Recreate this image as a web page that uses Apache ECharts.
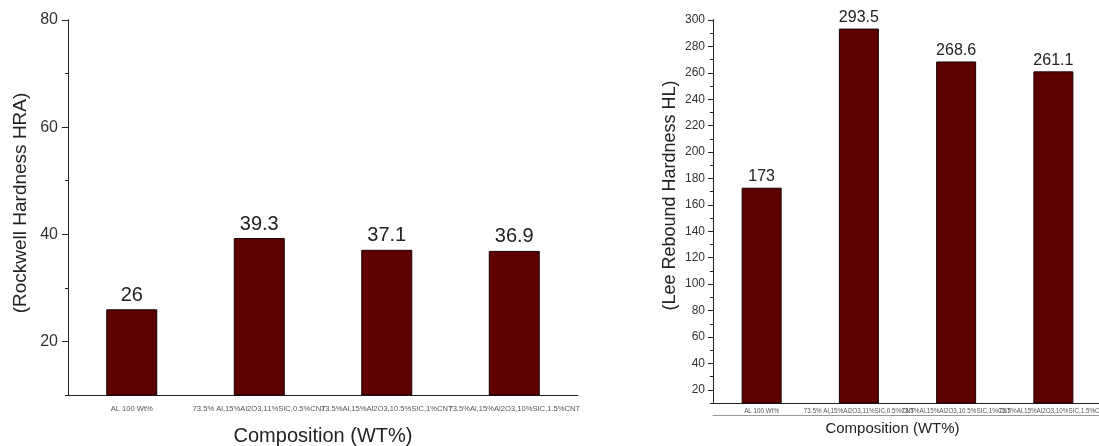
<!DOCTYPE html>
<html>
<head>
<meta charset="utf-8">
<script src="https://cdn.jsdelivr.net/npm/echarts@6/dist/echarts.min.js"></script>
<style>
  html, body { margin: 0; padding: 0; background: #fff; }
  #chart { width: 1099px; height: 446px; }
</style>
</head>
<body>
<div id="chart"></div>
<script>
// Sample compositions shared by both panels
const compositions = [
  'AL 100 Wt%',
  '73.5% Al,15%Al2O3,11%SIC,0.5%CNT',
  '73.5%Al,15%Al2O3,10.5%SIC,1%CNT',
  '73.5%Al,15%Al2O3,10%SIC,1.5%CNT'
];

// Rockwell hardness (HRA)
const rockwellValues = [26, 39.3, 37.1, 36.9];
const rockwellTicks = [20, 40, 60, 80];

// Leeb rebound hardness (HL)
const leebValues = [173, 293.5, 268.6, 261.1];
const leebTicks = [20, 40, 60, 80, 100, 120, 140, 160, 180, 200, 220, 240, 260, 280, 300];

const FONT = 'Liberation Sans, Arial, sans-serif';
const BAR_COLOR = '#5c0000';
const INK = '#222';
const TICK_STEP = 20;

// Panel geometry (px): plot areas start at value 10
const LEFT_PANEL = { left: 68, top: 20, right: 521, bottom: 51, min: 10, max: rockwellTicks[rockwellTicks.length - 1] };
const RIGHT_PANEL = { left: 713, top: 20, right: -3, bottom: 43, min: 10, max: leebTicks[leebTicks.length - 1] };
const CHART_H = 446;

// A companion grid covering the same scale but starting at the first labelled
// value, so that labelled ticks are counted from its own min.
function labelledGrid(p, firstTick) {
  const pxPerUnit = (CHART_H - p.top - p.bottom) / (p.max - p.min);
  return {
    left: p.left, top: p.top, right: p.right,
    bottom: p.bottom + (firstTick - p.min) * pxPerUnit,
    outerBoundsMode: 'none'
  };
}

const chart = echarts.init(document.getElementById('chart'), null, { renderer: 'canvas' });

// Extra category axis that only draws ticks at the category boundaries
function boundaryTickAxis(gridIndex, tickOpts) {
  return {
    type: 'category', gridIndex, position: 'bottom', data: compositions,
    axisLine: { show: false }, axisLabel: { show: false },
    axisTick: tickOpts, splitLine: { show: false }
  };
}

function hiddenCategoryAxis(gridIndex) {
  return {
    type: 'category', gridIndex, data: compositions,
    axisLine: { show: false }, axisTick: { show: false }, axisLabel: { show: false }
  };
}

// Tick values 20, 40, ... counted from the first labelled value
function majorAxisBase(gridIndex, ticks) {
  return {
    type: 'value', gridIndex, position: 'left',
    min: ticks[0], max: ticks[ticks.length - 1], interval: TICK_STEP,
    splitLine: { show: false }
  };
}

// Numbers only
function labelAxis(gridIndex, ticks, fontSize, margin) {
  return Object.assign(majorAxisBase(gridIndex, ticks), {
    axisLine: { show: false },
    axisTick: { show: false },
    axisLabel: { show: true, fontSize, color: '#333', fontFamily: FONT, margin }
  });
}

// Long major tick marks only (drawn over the panel's own axis line)
function majorTickAxis(gridIndex, ticks, tickLen) {
  return Object.assign(majorAxisBase(gridIndex, ticks), {
    axisLine: { show: true, lineStyle: { color: INK, width: 1 } },
    axisTick: { show: true, length: tickLen, lineStyle: { color: INK, width: 1 } },
    axisLabel: { show: false }
  });
}

chart.setOption({
  animation: false,
  grid: [
    { left: LEFT_PANEL.left, top: LEFT_PANEL.top, right: LEFT_PANEL.right, bottom: LEFT_PANEL.bottom, outerBoundsMode: 'none' },
    { left: RIGHT_PANEL.left, top: RIGHT_PANEL.top, right: RIGHT_PANEL.right, bottom: RIGHT_PANEL.bottom, outerBoundsMode: 'none' },
    labelledGrid(LEFT_PANEL, rockwellTicks[0]),
    labelledGrid(RIGHT_PANEL, leebTicks[0])
  ],
  xAxis: [
    {
      type: 'category', gridIndex: 0, position: 'bottom', data: compositions,
      axisLine: { lineStyle: { color: INK, width: 1 } },
      axisTick: { alignWithLabel: true, length: 4, lineStyle: { color: INK } },
      axisLabel: { interval: 0, fontSize: 7.6, color: '#555', fontFamily: FONT, margin: 10 },
      name: 'Composition (WT%)', nameLocation: 'middle', nameGap: 31,
      nameTextStyle: { fontSize: 20, color: INK, fontFamily: FONT }
    },
    boundaryTickAxis(0, { length: 3, lineStyle: { color: INK } }),
    {
      type: 'category', gridIndex: 1, position: 'bottom', data: compositions,
      axisLine: { lineStyle: { color: INK, width: 1 } },
      axisTick: { alignWithLabel: true, inside: true, length: 5, lineStyle: { color: INK } },
      axisLabel: { interval: 0, fontSize: 6.3, color: '#555', fontFamily: FONT, margin: 5 },
      name: 'Composition (WT%)', nameLocation: 'middle', nameGap: 18,
      nameTextStyle: { fontSize: 15, color: INK, fontFamily: FONT, padding: [0, 30, 0, 0] }
    },
    boundaryTickAxis(1, { inside: true, length: 3, lineStyle: { color: INK } }),
    {
      // thin rule under the composition labels
      type: 'category', gridIndex: 1, position: 'bottom', data: compositions, offset: 12,
      axisLine: { lineStyle: { color: '#999', width: 1 } },
      axisTick: { show: false }, axisLabel: { show: false }
    },
    hiddenCategoryAxis(2),
    hiddenCategoryAxis(3)
  ],
  yAxis: [
    {
      // left panel: axis line, short minor ticks (30, 50, 70) and title
      type: 'value', gridIndex: 0, position: 'left',
      min: LEFT_PANEL.min, max: LEFT_PANEL.max, interval: TICK_STEP,
      axisLine: { show: true, lineStyle: { color: INK } },
      axisTick: { show: true, length: 3, lineStyle: { color: INK } },
      axisLabel: { show: false },
      splitLine: { show: false },
      name: '(Rockwell Hardness HRA)', nameLocation: 'middle', nameGap: 38,
      nameTextStyle: { fontSize: 19, color: INK, fontFamily: FONT, padding: [0, 0, 0, 9] }
    },
    {
      // right panel: axis line, short minor ticks and title
      type: 'value', gridIndex: 1, position: 'left',
      min: RIGHT_PANEL.min, max: RIGHT_PANEL.max, interval: TICK_STEP,
      axisLine: { show: true, lineStyle: { color: INK } },
      axisTick: { show: true, length: 3, lineStyle: { color: INK } },
      axisLabel: { show: false },
      splitLine: { show: false },
      name: '(Lee Rebound Hardness HL)', nameLocation: 'middle', nameGap: 34,
      nameTextStyle: { fontSize: 18, color: INK, fontFamily: FONT, padding: [0, 0, 0, 32] }
    },
    labelAxis(2, rockwellTicks, 16, 10),
    labelAxis(3, leebTicks, 12, 8),
    majorTickAxis(2, rockwellTicks, 6),
    majorTickAxis(3, leebTicks, 5)
  ],
  series: [
    {
      type: 'bar', xAxisIndex: 0, yAxisIndex: 0, data: rockwellValues,
      barWidth: 51,
      itemStyle: { color: BAR_COLOR, borderColor: '#1a0000', borderWidth: 1 },
      label: { show: true, position: 'top', distance: 4, fontSize: 20, color: INK, fontFamily: FONT }
    },
    {
      type: 'bar', xAxisIndex: 2, yAxisIndex: 1, data: leebValues,
      barWidth: 40,
      itemStyle: { color: BAR_COLOR, borderColor: '#1a0000', borderWidth: 1 },
      label: { show: true, position: 'top', distance: 3, fontSize: 16, color: INK, fontFamily: FONT }
    }
  ]
});
</script>
</body>
</html>
